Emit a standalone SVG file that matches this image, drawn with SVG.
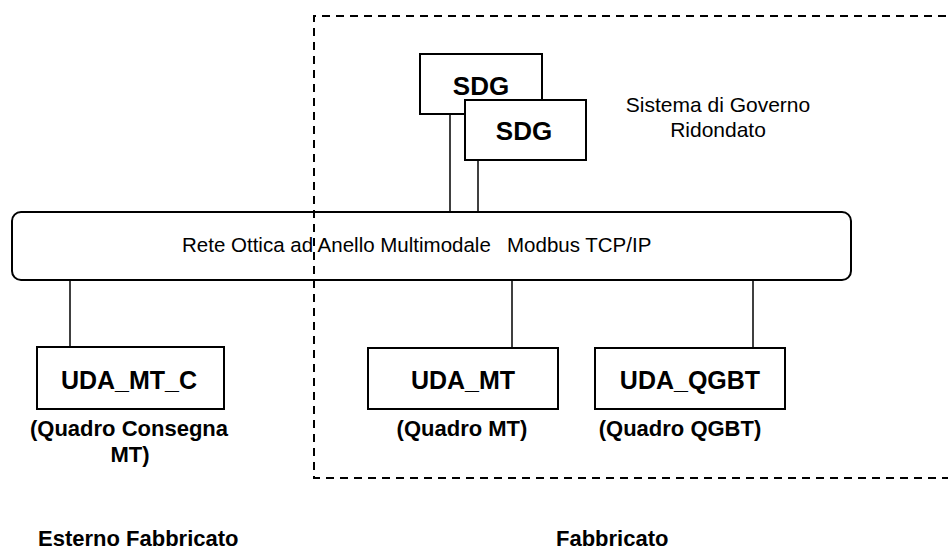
<svg xmlns="http://www.w3.org/2000/svg" width="948" height="551" viewBox="0 0 948 551">
  <style>
    .box { fill: #fff; stroke: #000; stroke-width: 2; }
    .wire { fill: none; stroke: #000; stroke-width: 1.5; }
    .zone { fill: none; stroke: #000; stroke-width: 2; stroke-dasharray: 8 6; }
    .t { font-family: "Liberation Sans", Arial, sans-serif; fill: #000; }
    .bold { font-weight: bold; }
    .mid { text-anchor: middle; }
  </style>

  <rect width="948" height="551" fill="#fff"/>

  <!-- connectors -->
  <g id="connectors">
    <line class="wire" x1="450" y1="114" x2="450" y2="212"/>
    <line class="wire" x1="478" y1="160" x2="478" y2="212"/>
    <line class="wire" x1="70" y1="280" x2="70" y2="347"/>
    <line class="wire" x1="512" y1="280" x2="512" y2="348"/>
    <line class="wire" x1="753" y1="280" x2="753" y2="348"/>
  </g>

  <g id="sdg-1">
    <rect class="box" x="420" y="54" width="122" height="60"/>
    <text class="t bold mid" x="481" y="95" font-size="26">SDG</text>
  </g>

  <g id="sdg-2">
    <rect class="box" x="465" y="100" width="121" height="60"/>
    <text class="t bold mid" x="524" y="140" font-size="26">SDG</text>
  </g>

  <g id="sdg-label">
    <text class="t mid" x="718" y="112" font-size="21">Sistema di Governo</text>
    <text class="t mid" x="718" y="137" font-size="21">Ridondato</text>
  </g>

  <g id="rete-ottica">
    <rect class="box" x="12" y="212" width="839" height="68" rx="9" ry="9"/>
    <text class="t" y="252" font-size="20.5"><tspan x="182">Rete Ottica ad Anello Multimodale</tspan><tspan x="507">Modbus TCP/IP</tspan></text>
  </g>

  <!-- building boundary (dashed), drawn on top so it crosses the ring -->
  <g id="zone-fabbricato">
    <path class="zone" d="M960 16 H314 V478 H960"/>
  </g>

  <g id="uda-mt-c">
    <rect class="box" x="37" y="347" width="187" height="62"/>
    <text class="t bold mid" x="129" y="389" font-size="25">UDA_MT_C</text>
    <text class="t bold mid" x="129" y="436" font-size="22">(Quadro Consegna</text>
    <text class="t bold mid" x="130" y="462" font-size="22">MT)</text>
  </g>

  <g id="uda-mt">
    <rect class="box" x="368" y="348" width="190" height="61"/>
    <text class="t bold mid" x="463" y="389" font-size="25">UDA_MT</text>
    <text class="t bold mid" x="462" y="436" font-size="22">(Quadro MT)</text>
  </g>

  <g id="uda-qgbt">
    <rect class="box" x="595" y="348" width="190" height="61"/>
    <text class="t bold mid" x="690" y="389" font-size="25">UDA_QGBT</text>
    <text class="t bold mid" x="680" y="436" font-size="22">(Quadro QGBT)</text>
  </g>

  <g id="zone-labels">
    <text class="t bold" x="38" y="546" font-size="22">Esterno Fabbricato</text>
    <text class="t bold" x="556" y="546" font-size="22">Fabbricato</text>
  </g>
</svg>
